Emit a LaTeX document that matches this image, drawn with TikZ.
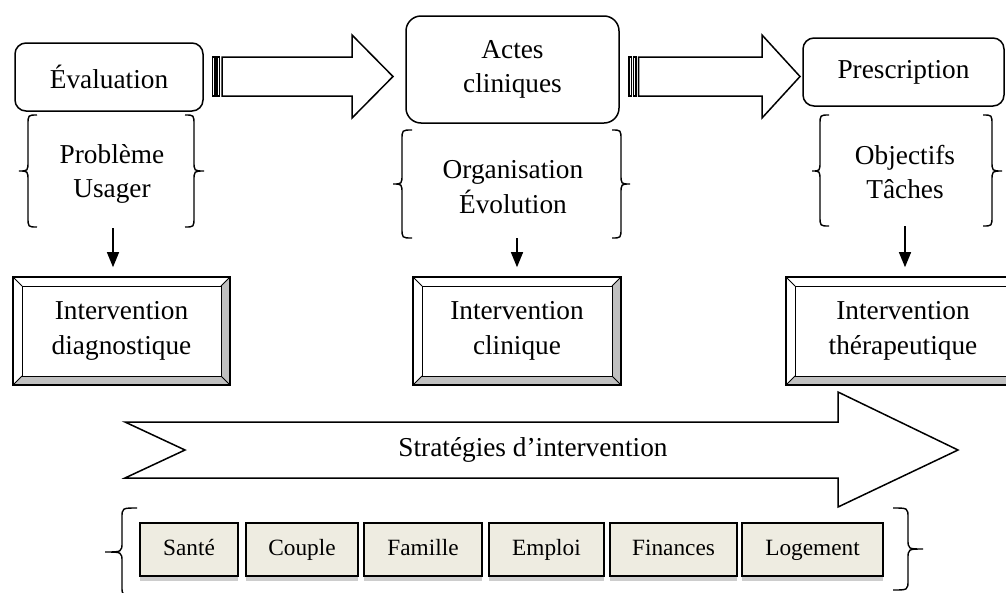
\documentclass[tikz,border=0pt]{standalone}
\usepackage{fontspec}
\setmainfont{Liberation Serif}
\usetikzlibrary{arrows.meta,shadows}

\definecolor{bevelgray}{RGB}{192,192,192}
\definecolor{catfill}{RGB}{238,236,225}
\definecolor{shadowgray}{RGB}{205,205,205}

\newcommand\lblfont{\fontsize{27.3}{34.5}\selectfont}
\newcommand\catfont{\fontsize{23.3}{27}\selectfont}

% curly brace: tip x, spine x, end x, top y, middle y, bottom y
\newcommand\curly[6]{%
  \draw[bracestyle] (#3,#4) .. controls (#2,#4) .. (#2,#4+10)
    -- (#2,#5-10) .. controls (#2,#5) .. (#1,#5)
    .. controls (#2,#5) .. (#2,#5+10)
    -- (#2,#6-10) .. controls (#2,#6) .. (#3,#6);}

\begin{document}
\begin{tikzpicture}[x=1pt,y=-1pt,
  roundbox/.style={draw, line width=1.5pt, rounded corners=#1, font=\lblfont, align=center},
  bracestyle/.style={line width=1.4pt},
  grouptext/.style={font=\lblfont, align=center},
  bevelbox/.style={draw, line width=1.6pt, font=\lblfont, align=center,
    path picture={
      \fill[bevelgray] (path picture bounding box.north west) rectangle (path picture bounding box.south east);
      \fill[white] (path picture bounding box.north west) -- (path picture bounding box.north east)
        -- ([shift={(-9,9)}]path picture bounding box.north east)
        -- ([shift={(9,9)}]path picture bounding box.north west)
        -- ([shift={(9,-9)}]path picture bounding box.south west)
        -- (path picture bounding box.south west) -- cycle;
      \fill[white] ([shift={(9,9)}]path picture bounding box.north west) rectangle ([shift={(-9,-9)}]path picture bounding box.south east);
      \draw[line width=1pt] ([shift={(9,9)}]path picture bounding box.north west) rectangle ([shift={(-9,-9)}]path picture bounding box.south east);
      \draw[line width=0.8pt]
        (path picture bounding box.north west) -- ++(9,9)
        (path picture bounding box.north east) -- ++(-9,9)
        (path picture bounding box.south west) -- ++(9,-9)
        (path picture bounding box.south east) -- ++(-9,-9);
    }},
  downarrow/.style={line width=1.3pt, -{Triangle[length=15pt,width=12pt]}},
  hollowarrow/.style={draw, line width=1.5pt, fill=white, line join=miter},
  catbox/.style={draw, line width=1.8pt, fill=catfill, font=\catfont,
    minimum height=53pt, inner sep=0pt, text height=16pt, text depth=5pt,
    drop shadow={shadow xshift=0pt, shadow yshift=-4.5pt, fill=shadowgray, opacity=1}},
]
\useasboundingbox (0,0) rectangle (1006,592);

% ---- top row: the three stages ----
\node[roundbox=11pt, minimum width=188pt, minimum height=68pt] (eval) at (109,77) {Évaluation};
\node[roundbox=15pt, minimum width=213pt, minimum height=107pt] (actes) at (512.5,69.5) {Actes\\cliniques};
\node[roundbox=11pt, minimum width=201pt, minimum height=68pt] (presc) at (903.5,72) {Prescription};

% ---- striped block arrows between the stages ----
\foreach \s in {212.5,629}{
  \draw[hollowarrow] (\s,57) rectangle (\s+2.5,96);
  \draw[hollowarrow] (\s+4.5,57) rectangle (\s+7,96);
}
\draw[hollowarrow] (222,57) -- (352,57) -- (352,35) -- (393,76.5) -- (352,118) -- (352,96) -- (222,96) -- cycle;
\draw[hollowarrow] (638.5,57) -- (762,57) -- (762,35) -- (800,76.5) -- (762,118) -- (762,96) -- (638.5,96) -- cycle;

% ---- bracketed contents of each stage ----
\curly{19}{28}{37}{115}{171}{227}
\curly{204}{194}{185}{115}{171}{227}
\node[grouptext] (g1) at (112,174) {Problème\\Usager};

\curly{393}{402}{412}{130}{184}{238}
\curly{630}{621}{612}{130}{184}{238}
\node[grouptext] (g2) at (513,187) {Organisation\\Évolution};

\curly{812}{820}{829}{115}{171}{226}
\curly{1002}{992}{983}{115}{171}{226}
\node[grouptext] (g3) at (905,172) {Objectifs\\Tâches};

% ---- the three kinds of intervention ----
\node[bevelbox, minimum width=217pt, minimum height=108pt] (diag) at (121.5,331) {Intervention\\diagnostique};
\node[bevelbox, minimum width=208pt, minimum height=108pt] (clin) at (517,331) {Intervention\\clinique};
\node[bevelbox, minimum width=234pt, minimum height=108pt] (ther) at (903,331) {Intervention\\thérapeutique};

\coordinate (d1) at (113,228);
\coordinate (d2) at (517,238);
\coordinate (d3) at (905,226);
\draw[downarrow, shorten >=9pt] (d1) -- (d1 |- diag.north);
\draw[downarrow, shorten >=9pt] (d2) -- (d2 |- clin.north);
\draw[downarrow, shorten >=9pt] (d3) -- (d3 |- ther.north);

% ---- strategies arrow ----
\draw[hollowarrow] (125,422) -- (838,422) -- (838,392) -- (958,450) -- (838,507) -- (838,478) -- (125,478) -- (185,450) -- cycle;
\node[font=\lblfont] (strat) at (533,450) {Stratégies d’intervention};

% ---- life domains ----
\curly{105}{122}{137}{508}{552}{596}
\node[catbox, minimum width=98pt]  (sante)   at (189,549.5)   {Santé};
\node[catbox, minimum width=112pt] (couple)  at (302,549.5)   {Couple};
\node[catbox, minimum width=118pt] (famille) at (423,549.5)   {Famille};
\node[catbox, minimum width=115pt] (emploi)  at (546.5,549.5) {Emploi};
\node[catbox, minimum width=127pt] (fin)     at (673.5,549.5) {Finances};
\node[catbox, minimum width=141pt] (logt)    at (812.5,549.5) {Logement};
\curly{923}{908}{893}{508}{549}{590}
\end{tikzpicture}
\end{document}
